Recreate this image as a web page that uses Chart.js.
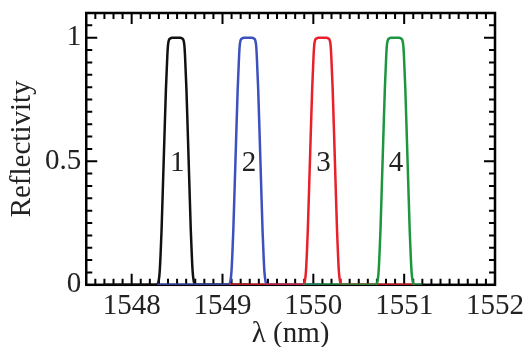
<!DOCTYPE html>
<html><head><meta charset="utf-8">
<script src="https://cdn.jsdelivr.net/npm/chart.js@4/dist/chart.umd.min.js"></script>
<style>html,body{margin:0;padding:0;background:#fff;}canvas{display:block;}</style>
</head><body>
<canvas id="c" width="527" height="347"></canvas>
<script>
// Wavelengths (nm) for each grating channel
const wl1 = [1547.69,1548.275,1548.285,1548.297,1548.308,1548.318,1548.329,1548.345,1548.36,1548.377,1548.385,1548.393,1548.40,1548.41,1548.425,1548.445,1548.49,1548.535,1548.555,1548.57,1548.58,1548.587,1548.595,1548.603,1548.62,1548.635,1548.651,1548.662,1548.672,1548.683,1548.695,1548.705,1549.29];
const wl2 = [1548.28,1549.065,1549.075,1549.087,1549.098,1549.108,1549.119,1549.135,1549.15,1549.167,1549.175,1549.183,1549.19,1549.20,1549.215,1549.235,1549.28,1549.325,1549.345,1549.36,1549.37,1549.377,1549.385,1549.393,1549.41,1549.425,1549.441,1549.452,1549.462,1549.473,1549.485,1549.495,1550.08];
const wl3 = [1549.07,1549.885,1549.895,1549.907,1549.918,1549.928,1549.939,1549.955,1549.97,1549.987,1549.995,1550.003,1550.01,1550.02,1550.035,1550.055,1550.10,1550.145,1550.165,1550.18,1550.19,1550.197,1550.205,1550.213,1550.23,1550.245,1550.261,1550.272,1550.282,1550.293,1550.305,1550.315,1551.12];
const wl4 = [1549.89,1550.685,1550.695,1550.707,1550.718,1550.728,1550.739,1550.755,1550.77,1550.787,1550.795,1550.803,1550.81,1550.82,1550.835,1550.855,1550.90,1550.945,1550.965,1550.98,1550.99,1550.997,1551.005,1551.013,1551.03,1551.045,1551.061,1551.072,1551.082,1551.093,1551.105,1551.115,1551.2];
// Reflectivity (same shape for each channel)
const refl1 = [0,0,0.003,0.015,0.05,0.12,0.22,0.41,0.59,0.79,0.86,0.93,0.97,0.99,0.997,1,1,1,0.997,0.99,0.97,0.93,0.86,0.79,0.59,0.41,0.22,0.12,0.05,0.015,0.003,0,0];
const refl2 = [0,0,0.003,0.015,0.05,0.12,0.22,0.41,0.59,0.79,0.86,0.93,0.97,0.99,0.997,1,1,1,0.997,0.99,0.97,0.93,0.86,0.79,0.59,0.41,0.22,0.12,0.05,0.015,0.003,0,0];
const refl3 = [0,0,0.003,0.015,0.05,0.12,0.22,0.41,0.59,0.79,0.86,0.93,0.97,0.99,0.997,1,1,1,0.997,0.99,0.97,0.93,0.86,0.79,0.59,0.41,0.22,0.12,0.05,0.015,0.003,0,0];
const refl4 = [0,0,0.003,0.015,0.05,0.12,0.22,0.41,0.59,0.79,0.86,0.93,0.97,0.99,0.997,1,1,1,0.997,0.99,0.97,0.93,0.86,0.79,0.59,0.41,0.22,0.12,0.05,0.015,0.003,0,0];

const channelLabels = ['1','2','3','4'];
const channelCenters = [1548.49, 1549.28, 1550.10, 1550.90];
const channelLabelLevel = 0.5;
const xTickValues = [1548,1549,1550,1551,1552];
const xTickLabels = ['1548','1549','1550','1551','1552'];
const yTickValues = [0,0.5,1];
const yTickLabels = ['0','0.5','1'];
const colors = ['#111111','#3c50be','#e8202a','#1e9640'];

const wls = [wl1,wl2,wl3,wl4];
const refls = [refl1,refl2,refl3,refl4];
const FONT = "'Liberation Serif', 'Times New Roman', serif";

const framePlugin = {
  id: 'frame',
  beforeDatasetsDraw(chart) {
    const {ctx, chartArea: a, scales: {x, y}} = chart;
    ctx.save();
    ctx.strokeStyle = '#000';
    ctx.lineWidth = 2;
    ctx.beginPath();
    const xt = (v, len) => { const p = x.getPixelForValue(v); ctx.moveTo(p, a.bottom); ctx.lineTo(p, a.bottom - len); ctx.moveTo(p, a.top); ctx.lineTo(p, a.top + len); };
    const yt = (v, len) => { const p = y.getPixelForValue(v); ctx.moveTo(a.left, p); ctx.lineTo(a.left + len, p); ctx.moveTo(a.right, p); ctx.lineTo(a.right - len, p); };
    for (let i = 1; i < 45; i++) {
      const v = Math.round((x.min + i * 0.1) * 10) / 10;
      if (Math.abs(v - Math.round(v)) < 1e-6) xt(v, 11); else xt(v, 6);
    }
    for (let i = 1; i < 22; i++) {
      const v = Math.round(i * 5) / 100;
      if (Math.abs(v * 2 - Math.round(v * 2)) < 1e-6) yt(v, 11); else yt(v, 6);
    }
    ctx.stroke();
    ctx.lineWidth = 2.5;
    ctx.strokeRect(a.left, a.top, a.right - a.left, a.bottom - a.top);
    ctx.restore();
  },
  afterDatasetsDraw(chart) {
    const {ctx, scales: {x, y}} = chart;
    ctx.save();
    ctx.fillStyle = '#222';
    ctx.font = "29px " + FONT;
    ctx.textAlign = 'center';
    ctx.textBaseline = 'middle';
    channelLabels.forEach((t, i) => {
      ctx.fillText(t, x.getPixelForValue(channelCenters[i]) + 1, y.getPixelForValue(channelLabelLevel) + 2);
    });
    ctx.restore();
  }
};

new Chart(document.getElementById('c'), {
  type: 'line',
  data: {
    datasets: wls.map((w, i) => ({
      data: w.map((v, j) => ({x: v, y: refls[i][j]})),
      borderColor: colors[i],
      borderWidth: 2.5,
      pointRadius: 0,
      fill: false,
      cubicInterpolationMode: 'monotone',
      order: 4 - i
    }))
  },
  options: {
    responsive: false,
    animation: false,
    devicePixelRatio: 1,
    layout: {padding: {left: 8, right: 32, top: 13, bottom: 0}},
    plugins: {legend: {display: false}, tooltip: {enabled: false}},
    scales: {
      x: {
        type: 'linear', min: 1547.5, max: 1552,
        afterBuildTicks: s => { s.ticks = xTickValues.map(v => ({value: v})); },
        grid: {display: true, drawOnChartArea: false, drawTicks: true, tickLength: 9, tickColor: 'rgba(0,0,0,0)', color: 'rgba(0,0,0,0)'},
        border: {display: false},
        ticks: {color: '#222', font: {family: FONT, size: 29, lineHeight: 0.9}, padding: 0, maxRotation: 0, autoSkip: false,
          callback: (v, i) => xTickLabels[i]},
        title: {display: true, text: 'λ (nm)', color: '#222', font: {family: FONT, size: 29, lineHeight: 0.9}, padding: {top: 1, bottom: 0}}
      },
      y: {
        type: 'linear', min: 0, max: 1.1,
        afterBuildTicks: s => { s.ticks = yTickValues.map(v => ({value: v})); },
        grid: {display: true, drawOnChartArea: false, drawTicks: true, tickLength: 5, tickColor: 'rgba(0,0,0,0)', color: 'rgba(0,0,0,0)'},
        border: {display: false},
        ticks: {color: '#222', font: {family: FONT, size: 29, lineHeight: 0.8}, padding: 0, autoSkip: false,
          callback: (v, i) => yTickLabels[i]},
        title: {display: true, text: 'Reflectivity', color: '#222', font: {family: FONT, size: 29, lineHeight: 1}, padding: {top: 0, bottom: 8}}
      }
    }
  },
  plugins: [framePlugin]
});
</script>
</body></html>
